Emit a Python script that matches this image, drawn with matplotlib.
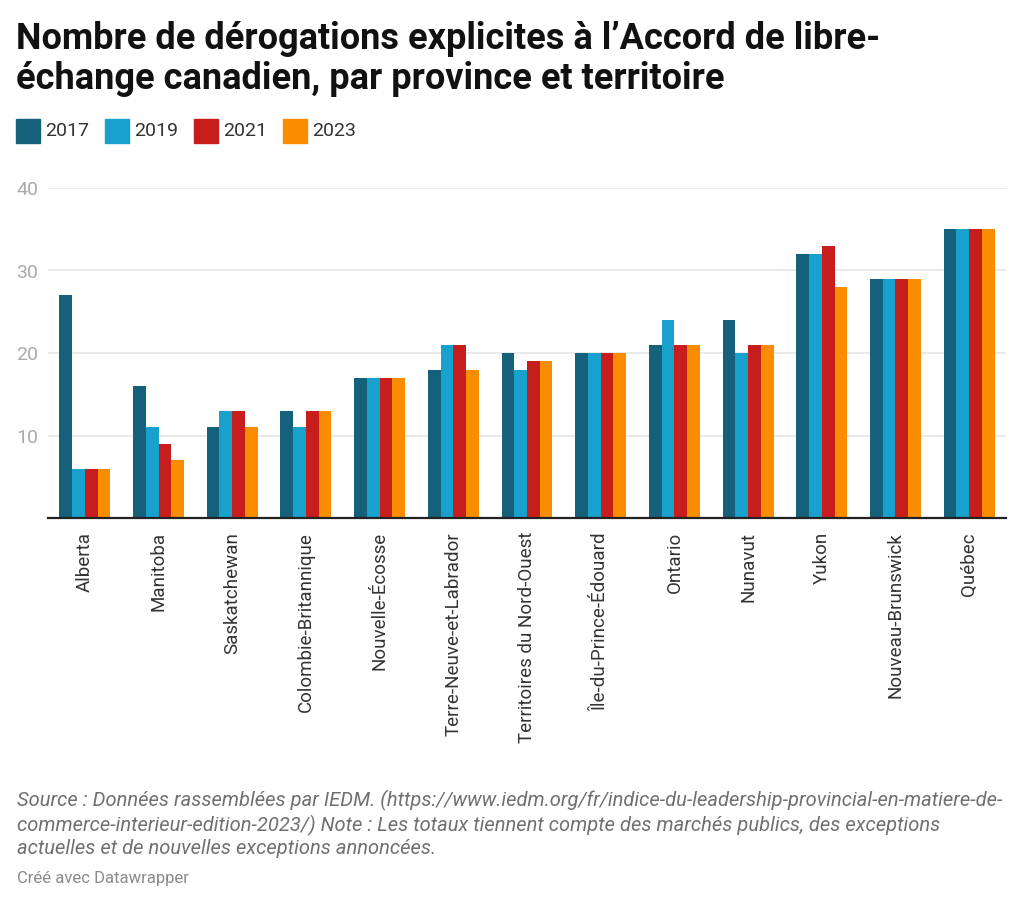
import matplotlib.pyplot as plt
import numpy as np

plt.rcParams['font.family'] = ['Roboto', 'DejaVu Sans']

# ---- data ----
provinces = ["Alberta", "Manitoba", "Saskatchewan", "Colombie-Britannique",
             "Nouvelle-Écosse", "Terre-Neuve-et-Labrador",
             "Territoires du Nord-Ouest", "Île-du-Prince-Édouard", "Ontario",
             "Nunavut", "Yukon", "Nouveau-Brunswick", "Québec"]
years = ["2017", "2019", "2021", "2023"]
v2017 = [27, 16, 11, 13, 17, 18, 20, 20, 21, 24, 32, 29, 35]
v2019 = [6, 11, 13, 11, 17, 21, 18, 20, 24, 20, 32, 29, 35]
v2021 = [6, 9, 13, 13, 17, 21, 19, 20, 21, 21, 33, 29, 35]
v2023 = [6, 7, 11, 13, 17, 18, 19, 20, 21, 21, 28, 29, 35]
yticks = [10, 20, 30, 40]

colors = ["#15607a", "#18a1cd", "#c71e1d", "#fa8c00"]
series = [v2017, v2019, v2021, v2023]

W, H = 1024, 907
fig = plt.figure(figsize=(W / 100, H / 100), dpi=100)
ax = fig.add_axes([48 / W, 1 - 518 / H, 958 / W, 330 / H])

x = np.arange(len(provinces))
bw = 0.173
for i, (vals, c) in enumerate(zip(series, colors)):
    ax.bar(x + (i - 1.5) * bw, vals, width=bw, color=c, zorder=3, linewidth=0)

ax.set_xlim(-0.5, len(provinces) - 0.5)
ax.set_ylim(0, 40)
ax.set_yticks(yticks)
ax.set_yticklabels([str(t) for t in yticks])
ax.yaxis.grid(True, color="#e6e6e6", linewidth=1.2, zorder=0)
ax.tick_params(axis="y", length=0, pad=7, labelsize=14, labelcolor="#aaaaaa")
ax.set_xticks(x)
ax.set_xticklabels(provinces, rotation=90, fontsize=13.5, color="#333333")
ax.tick_params(axis="x", length=0, pad=10)
for s in ["top", "right", "left"]:
    ax.spines[s].set_visible(False)
ax.spines["bottom"].set_color("#222222")
ax.spines["bottom"].set_linewidth(1.6)
ax.spines["bottom"].set_zorder(4)

# ---- title ----
fig.text(16 / W, 1 - 21 / H,
         "Nombre de dérogations explicites à l’Accord de libre-\néchange canadien, par province et territoire",
         fontsize=26, fontweight="bold", color="#111111", va="top", ha="left",
         linespacing=1.15)

# ---- legend ----
lx = 16
for yr, c in zip(years, colors):
    fig.patches.append(plt.Rectangle((lx / W, 1 - 143 / H), 24 / W, 24 / H,
                                     transform=fig.transFigure, color=c))
    fig.text((lx + 29) / W, 1 - 131 / H, yr, fontsize=14, color="#333333",
             va="center", ha="left")
    lx += 89

# ---- footer ----
fig.text(17 / W, 1 - 790 / H,
         "Source : Données rassemblées par IEDM. (https://www.iedm.org/fr/indice-du-leadership-provincial-en-matiere-de-\n"
         "commerce-interieur-edition-2023/) Note : Les totaux tiennent compte des marchés publics, des exceptions\n"
         "actuelles et de nouvelles exceptions annoncées.",
         fontsize=14.5, style="italic", color="#707070", va="top", ha="left",
         linespacing=1.22)
fig.text(17 / W, 1 - 878 / H, "Créé avec Datawrapper", fontsize=12,
         color="#8a8a8a", va="center", ha="left")

fig.savefig("out.png", dpi=100, facecolor="white")
